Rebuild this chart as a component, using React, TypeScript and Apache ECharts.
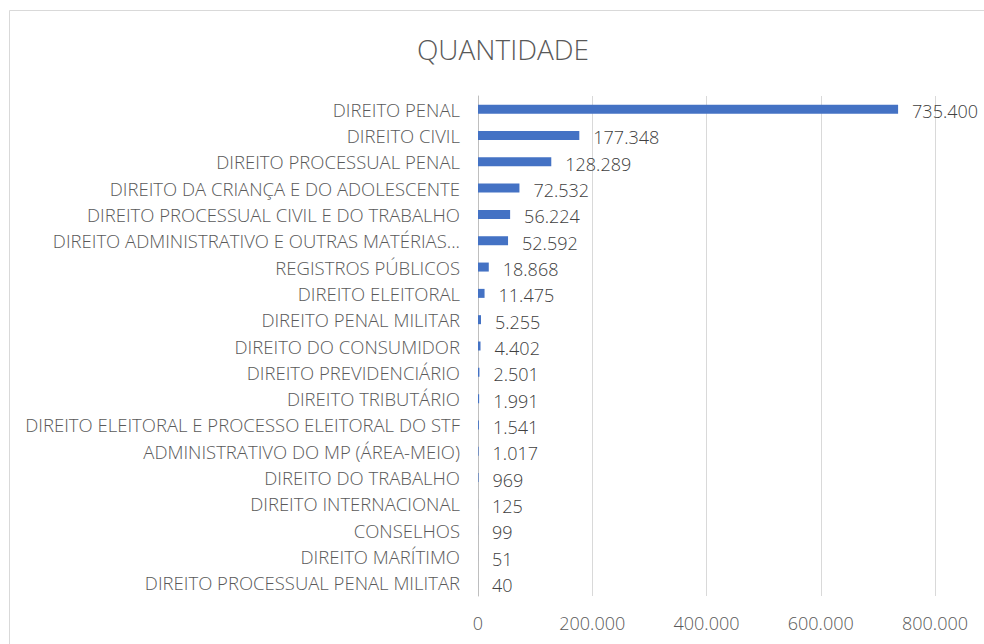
import React, { useEffect, useRef } from "react";
import * as echarts from "echarts";

const categories = [
  "DIREITO PENAL",
  "DIREITO CIVIL",
  "DIREITO PROCESSUAL PENAL",
  "DIREITO DA CRIANÇA E DO ADOLESCENTE",
  "DIREITO PROCESSUAL CIVIL E DO TRABALHO",
  "DIREITO ADMINISTRATIVO E OUTRAS MATÉRIAS...",
  "REGISTROS PÚBLICOS",
  "DIREITO ELEITORAL",
  "DIREITO PENAL MILITAR",
  "DIREITO DO CONSUMIDOR",
  "DIREITO PREVIDENCIÁRIO",
  "DIREITO TRIBUTÁRIO",
  "DIREITO ELEITORAL E PROCESSO ELEITORAL DO STF",
  "ADMINISTRATIVO DO MP (ÁREA-MEIO)",
  "DIREITO DO TRABALHO",
  "DIREITO INTERNACIONAL",
  "CONSELHOS",
  "DIREITO MARÍTIMO",
  "DIREITO PROCESSUAL PENAL MILITAR",
];
const values = [735400, 177348, 128289, 72532, 56224, 52592, 18868, 11475, 5255, 4402, 2501, 1991, 1541, 1017, 969, 125, 99, 51, 40];
const axisMax = 800000;
const axisInterval = 200000;
const titleText = "QUANTIDADE";

const fmt = (v: number) => String(Math.round(v)).replace(/\B(?=(\d{3})+(?!\d))/g, ".");

const FONT = "Open Sans";

export default function App() {
  const ref = useRef<HTMLDivElement>(null);
  useEffect(() => {
    const chart = echarts.init(ref.current!, null, { renderer: "svg" });
    chart.setOption({
      animation: false,
      backgroundColor: "#ffffff",
      graphic: [
        {
          type: "rect",
          shape: { x: 9.5, y: 10.5, width: 1000, height: 700 },
          style: { fill: "none", stroke: "#d9d9d9", lineWidth: 1 },
          silent: true,
        },
        {
          type: "text",
          x: 503,
          y: 49,
          style: {
            text: titleText,
            fontFamily: FONT,
            fontSize: 28,
            fontWeight: 300,
            fill: "#595959",
            align: "center",
            verticalAlign: "middle",
          },
        },
      ],
      grid: { left: 478, right: 49, top: 96, bottom: 48, containLabel: false },
      xAxis: {
        type: "value",
        min: 0,
        max: axisMax,
        interval: axisInterval,
        axisLine: { show: false },
        axisTick: { show: false },
        splitLine: { lineStyle: { color: "#d9d9d9", width: 1 } },
        axisLabel: {
          formatter: (v: number) => fmt(v),
          fontFamily: FONT,
          fontSize: 18,
          fontWeight: 300,
          color: "#595959",
          margin: 18,
        },
      },
      yAxis: {
        type: "category",
        inverse: true,
        data: categories,
        axisLine: { show: true, lineStyle: { color: "#bfbfbf", width: 1 } },
        axisTick: { show: false },
        axisLabel: { fontFamily: FONT, fontSize: 18.5, fontWeight: 300, color: "#595959", margin: 18 },
      },
      series: [
        {
          type: "bar",
          data: values,
          barWidth: 9,
          itemStyle: { color: "#4472C4" },
          label: {
            show: true,
            position: "right",
            distance: 14,
            offset: [0, 2],
            formatter: (p: any) => fmt(p.value),
            fontFamily: FONT,
            fontSize: 18,
            fontWeight: 300,
            color: "#404040",
          },
        },
      ],
    });
    return () => chart.dispose();
  }, []);
  return <div ref={ref} style={{ position: "fixed", left: 0, top: 0, width: 984, height: 644 }} />;
}
